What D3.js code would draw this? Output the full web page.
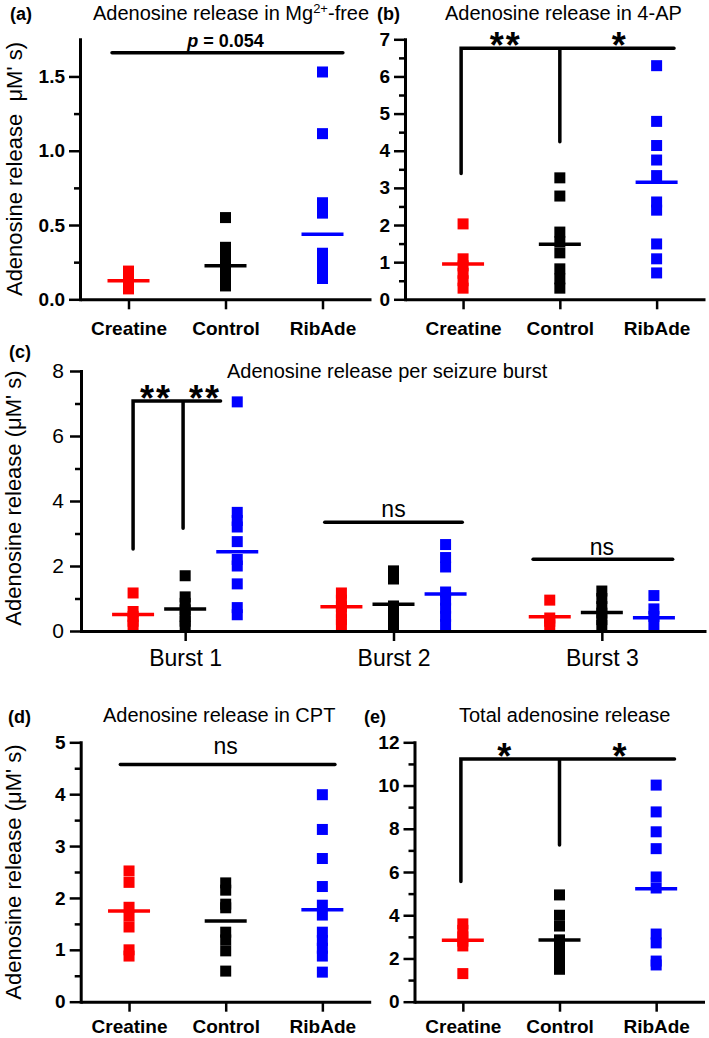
<!DOCTYPE html>
<html><head><meta charset="utf-8">
<script src="https://cdn.jsdelivr.net/npm/d3@7"></script>
<style>
body{margin:0;background:#fff}
svg text{font-family:"Liberation Sans",Arial,Helvetica,sans-serif}
</style></head><body>
<svg id="c" width="709" height="1038" xmlns="http://www.w3.org/2000/svg"></svg>
<script>
// ---------------- data ----------------
const groups = ["Creatine", "Control", "RibAde"];
const bursts = ["Burst 1", "Burst 2", "Burst 3"];

// (a) Mg2+-free
const mgCreatine = [0.19, 0.16, 0.13, 0.10, 0.07];
const mgControl  = [0.55, 0.35, 0.30, 0.26, 0.22, 0.18, 0.14, 0.09];
const mgRibAde   = [1.53, 1.115, 0.65, 0.58, 0.31, 0.26, 0.21, 0.17, 0.14];
const mgMeans    = [0.125, 0.226, 0.438];
const mgTicks    = [0, 0.5, 1.0, 1.5];
const mgMinor    = [0.25, 0.75, 1.25];
const mgSigLine  = [0.83, 3.21, 1.66];          // x1, x2, y
const mgSigText  = ["p = 0.054", 2.0, 1.70];     // label, x, y

// (b) 4-AP
const apCreatine = [2.03, 1.09, 0.9, 0.7, 0.5, 0.3];
const apControl  = [3.27, 2.78, 1.81, 1.55, 1.25, 0.82, 0.55, 0.3];
const apRibAde   = [6.29, 4.79, 4.14, 3.75, 3.33, 2.62, 2.40, 1.49, 1.09, 0.71];
const apMeans    = [0.95, 1.48, 3.15];
const apTicks    = [0, 1, 2, 3, 4, 5, 6, 7];
const apMinor    = [0.5, 1.5, 2.5, 3.5, 4.5, 5.5, 6.5];
const apBracket  = [0.98, 2.0, 3.18, 6.76, 3.39, 4.24]; // left, mid, right, top, leftBottom, midBottom
const apStars    = ["**", "*"];
const apStarX    = [1.44, 2.62];

// (c) per seizure burst
const b1Creatine = [1.17, 0.6, 0.45, 0.3, 0.18];
const b1Control  = [1.70, 1.05, 0.85, 0.65, 0.45, 0.3, 0.15];
const b1RibAde   = [7.05, 3.65, 3.4, 3.2, 2.75, 2.2, 2.0, 1.45, 0.72, 0.5];
const b1Means    = [0.51, 0.68, 2.44];
const b2Creatine = [1.17, 0.95, 0.75, 0.55, 0.35, 0.2];
const b2Control  = [1.85, 1.6, 0.77, 0.55, 0.35, 0.2];
const b2RibAde   = [2.66, 2.26, 1.97, 1.2, 0.95, 0.7, 0.45, 0.2];
const b2Means    = [0.75, 0.82, 1.14];
const b3Creatine = [0.95, 0.4, 0.3, 0.18];
const b3Control  = [1.23, 1.0, 0.75, 0.55, 0.35, 0.18];
const b3RibAde   = [1.09, 0.68, 0.45, 0.2];
const b3Means    = [0.44, 0.57, 0.41];
const burstTicks = [0, 2, 4, 6, 8];
const burstMinor = [1, 3, 5, 7];
const groupOffset = [-0.25, 0, 0.25];
const b1Bracket  = [0.75, 0.99, 1.17, 7.08, 2.52, 3.16];
const b1Stars    = ["**", "**"];
const b1StarX    = [0.86, 1.095];
const b2NsLine   = [1.67, 2.33, 3.35];
const b2NsText   = ["ns", 2.0, 3.52];
const b3NsLine   = [2.67, 3.34, 2.21];
const b3NsText   = ["ns", 3.0, 2.34];

// (d) CPT
const cptCreatine = [2.52, 2.3, 1.82, 1.65, 1.44, 1.0, 0.88];
const cptControl  = [2.29, 2.15, 1.88, 1.81, 1.34, 1.19, 0.98, 0.59];
const cptRibAde   = [3.99, 3.32, 2.76, 2.22, 1.86, 1.67, 1.34, 1.18, 1.03, 0.88, 0.57];
const cptMeans    = [1.75, 1.555, 1.77];
const cptTicks    = [0, 1, 2, 3, 4, 5];
const cptMinor    = [0.5, 1.5, 2.5, 3.5, 4.5];
const cptNsLine   = [0.91, 3.13, 4.57];
const cptNsText   = ["ns", 2.0, 4.77];

// (e) total
const totCreatine = [3.6, 3.3, 3.0, 2.8, 2.58, 1.3];
const totControl  = [4.94, 4.0, 3.5, 2.86, 2.5, 2.2, 1.85, 1.5];
const totRibAde   = [10.02, 8.78, 7.86, 7.08, 5.77, 5.26, 3.13, 2.72, 1.88, 1.70];
const totMeans    = [2.84, 2.86, 5.22];
const totTicks    = [0, 2, 4, 6, 8, 10, 12];
const totMinor    = [1, 3, 5, 7, 9, 11];
const totBracket  = [0.98, 2.0, 3.19, 11.23, 5.56, 7.25];
const totStars    = ["*", "*"];
const totStarX    = [1.44, 2.63];

// ---------------- drawing ----------------
const FONT = '"Liberation Sans", Arial, Helvetica, sans-serif';
const colors = ["#ff0000", "#000000", "#0000ff"];
const SQ = 11, MEANW = 42;
const svg = d3.select("#c");

function drawYAxis(g, x0, y, ticks, minor, fmt, o) {
  const ax = g.append("g").attr("transform", `translate(${x0},0)`)
    .call(d3.axisLeft(y).tickValues(ticks).tickSize(11).tickSizeOuter(0).tickPadding(o.pad).tickFormat(fmt));
  ax.attr("font-family", FONT).attr("font-size", o.size).attr("font-weight", o.bold ? "bold" : "normal");
  ax.select(".domain").attr("stroke", "#000").attr("stroke-width", 3).attr("stroke-linecap", "square");
  ax.selectAll(".tick line").attr("stroke", "#000").attr("stroke-width", 2.5);
  ax.selectAll(".tick text").attr("fill", "#000");
  const mn = g.append("g").attr("transform", `translate(${x0},0)`)
    .call(d3.axisLeft(y).tickValues(minor).tickSize(6).tickSizeOuter(0).tickFormat(""));
  mn.select(".domain").remove();
  mn.selectAll(".tick line").attr("stroke", "#000").attr("stroke-width", 2.5);
}

function drawXAxis(g, y0, x, ticks, fmt, o) {
  const ax = g.append("g").attr("transform", `translate(0,${y0})`)
    .call(d3.axisBottom(x).tickValues(ticks).tickSize(10).tickSizeOuter(0).tickPadding(o.pad).tickFormat(fmt));
  ax.attr("font-family", FONT).attr("font-size", o.size).attr("font-weight", o.bold ? "bold" : "normal");
  ax.select(".domain").attr("stroke", "#000").attr("stroke-width", 3);
  ax.selectAll(".tick line").attr("stroke", "#000").attr("stroke-width", 2.5);
  ax.selectAll(".tick text").attr("fill", "#000");
}

function drawGroup(g, cx, vals, mean, y, color) {
  g.append("g").selectAll("rect").data(vals).join("rect")
    .attr("x", cx - SQ / 2).attr("y", d => y(d) - SQ / 2)
    .attr("width", SQ).attr("height", SQ).attr("fill", color);
  g.append("line").attr("x1", cx - MEANW / 2).attr("x2", cx + MEANW / 2)
    .attr("y1", y(mean)).attr("y2", y(mean))
    .attr("stroke", color).attr("stroke-width", 3.5);
}

function sigLine(g, x, y, ln) {
  g.append("line").attr("x1", x(ln[0])).attr("x2", x(ln[1]))
    .attr("y1", y(ln[2])).attr("y2", y(ln[2]))
    .attr("stroke", "#000").attr("stroke-width", 3.5).attr("stroke-linecap", "round");
}
function sigText(g, x, y, t, o) {
  return g.append("text").attr("x", x(t[1])).attr("y", y(t[2]))
    .attr("text-anchor", "middle").attr("font-size", o.size)
    .attr("font-weight", o.bold ? "bold" : "normal").text(t[0]);
}
function bracket(g, x, y, b, stars, starX) {
  const p = d3.path();
  p.moveTo(x(b[0]), y(b[4])); p.lineTo(x(b[0]), y(b[3])); p.lineTo(x(b[2]), y(b[3]));
  p.moveTo(x(b[1]), y(b[3])); p.lineTo(x(b[1]), y(b[5]));
  g.append("path").attr("d", p.toString()).attr("fill", "none")
    .attr("stroke", "#000").attr("stroke-width", 3.5)
    .attr("stroke-linecap", "round").attr("stroke-linejoin", "miter");
  stars.forEach((s, i) => {
    g.append("text").attr("x", x(starX[i])).attr("y", y(b[3]) + 10)
      .attr("text-anchor", "middle").attr("font-size", 36).attr("font-weight", "bold")
      .attr("letter-spacing", 2).text(s);
  });
}

function title(tag, tx, ty, text, lx, ly) {
  svg.append("text").attr("x", tx).attr("y", ty).attr("font-size", 18).attr("font-weight", "bold").text(tag);
  return svg.append("text").attr("x", lx).attr("y", ly).attr("font-size", 20).text(text);
}
function yLabel(cx, cy, text) {
  svg.append("text").attr("transform", `translate(${cx},${cy}) rotate(-90)`)
    .attr("text-anchor", "middle").attr("font-size", 22)
    .style("white-space", "pre").text(text);
}

function standardPanel(xd, xr, yd, yr, ticks, minor, fmt, series, means, labPad) {
  const x = d3.scaleLinear().domain(xd).range(xr);
  const y = d3.scaleLinear().domain(yd).range(yr);
  const g = svg.append("g");
  series.forEach((vals, i) => drawGroup(g, x(i + 1), vals, means[i], y, colors[i]));
  drawYAxis(g, xr[0], y, ticks, minor, fmt, {bold: true, size: 19, pad: 4});
  drawXAxis(g, y(0), x, [1, 2, 3], i => groups[i - 1], {bold: true, size: 19, pad: labPad});
  return {x, y, g};
}

// (a)
const A = standardPanel([0.5, 3.5], [80, 371], [0, 1.75], [299.3, 39.3], mgTicks, mgMinor, d3.format(".1f"),
  [mgCreatine, mgControl, mgRibAde], mgMeans, 12);
sigLine(A.g, A.x, A.y, mgSigLine);
{
  const t = A.g.append("text").attr("x", A.x(mgSigText[1])).attr("y", A.y(mgSigText[2]))
    .attr("text-anchor", "middle").attr("font-size", 18).attr("font-weight", "bold");
  const parts = mgSigText[0].split(" ");
  t.append("tspan").attr("font-style", "italic").text(parts[0]);
  t.append("tspan").text(" " + parts.slice(1).join(" "));
}
{
  const t = title("(a)", 10, 20, "", 93, 20);
  t.append("tspan").text("Adenosine release in Mg");
  t.append("tspan").attr("font-size", 13).attr("dy", -7).text("2+");
  t.append("tspan").attr("dy", 7).text("-free");
}
yLabel(22, 169, "Adenosine release  \u03bcM' s)");

// (b)
const B = standardPanel([0.4, 3.5], [405, 705], [0, 7], [299.3, 39.3], apTicks, apMinor, d3.format("d"),
  [apCreatine, apControl, apRibAde], apMeans, 12);
bracket(B.g, B.x, B.y, apBracket, apStars, apStarX);
title("(b)", 377, 20, "Adenosine release in 4-AP", 445, 20);

// (c)
{
  const x = d3.scaleLinear().domain([0.5, 3.5]).range([81, 706]);
  const y = d3.scaleLinear().domain([0, 8]).range([631, 371]);
  const g = svg.append("g");
  const data = [[b1Creatine, b1Control, b1RibAde], [b2Creatine, b2Control, b2RibAde], [b3Creatine, b3Control, b3RibAde]];
  const means = [b1Means, b2Means, b3Means];
  data.forEach((grp, bi) => grp.forEach((vals, i) =>
    drawGroup(g, x(bi + 1 + groupOffset[i]), vals, means[bi][i], y, colors[i])));
  drawYAxis(g, 81, y, burstTicks, burstMinor, d3.format("d"), {bold: false, size: 21, pad: 6});
  drawXAxis(g, y(0), x, [1, 2, 3], i => bursts[i - 1], {bold: false, size: 23, pad: 9});
  bracket(g, x, y, b1Bracket, b1Stars, b1StarX);
  sigLine(g, x, y, b2NsLine); sigText(g, x, y, b2NsText, {size: 23});
  sigLine(g, x, y, b3NsLine); sigText(g, x, y, b3NsText, {size: 23});
  title("(c)", 9, 358, "Adenosine release per seizure burst", 227, 378);
  yLabel(21, 498, "Adenosine release (\u03bcM' s)");
}

// (d)
const D = standardPanel([0.5, 3.5], [80.7, 370.7], [0, 5], [1001.7, 742.3], cptTicks, cptMinor, d3.format("d"),
  [cptCreatine, cptControl, cptRibAde], cptMeans, 8);
sigLine(D.g, D.x, D.y, cptNsLine); sigText(D.g, D.x, D.y, cptNsText, {size: 23});
title("(d)", 8, 723, "Adenosine release in CPT", 103, 722);
yLabel(21, 872, "Adenosine release (\u03bcM' s)");

// (e)
const E = standardPanel([0.5, 3.5], [414.5, 704.5], [0, 12], [1001.7, 742.3], totTicks, totMinor, d3.format("d"),
  [totCreatine, totControl, totRibAde], totMeans, 8);
bracket(E.g, E.x, E.y, totBracket, totStars, totStarX);
title("(e)", 364, 723, "Total adenosine release", 459, 722);
</script>
</body></html>
